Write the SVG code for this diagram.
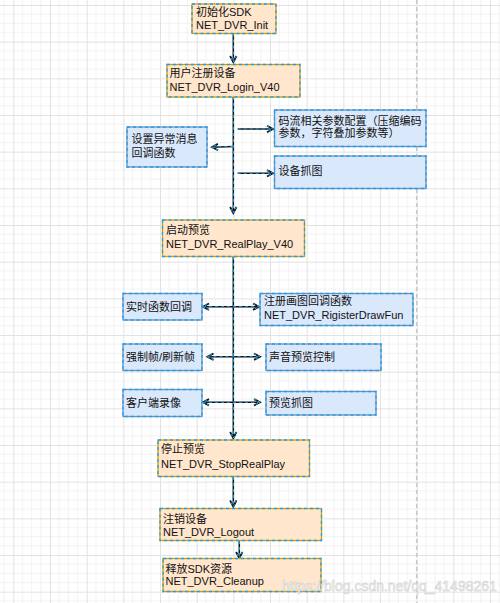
<svg xmlns="http://www.w3.org/2000/svg" width="500" height="603" viewBox="0 0 500 603">
<defs>
<pattern id="grid" x="13.333" y="5" width="36.667" height="36.667" patternUnits="userSpaceOnUse">
<path d="M9.167,0V36.667M18.333,0V36.667M27.5,0V36.667M0,9.167H36.667M0,18.333H36.667M0,27.5H36.667" stroke="#f2f2f2" stroke-width="1" fill="none"/>
<path d="M0.5,0V36.667M0,0.5H36.667" stroke="#e2e2e2" stroke-width="1" fill="none"/>
</pattern>
<marker id="ah" markerUnits="userSpaceOnUse" markerWidth="10" markerHeight="10" refX="7" refY="4" orient="auto-start-reverse" viewBox="0 0 10 8">
<path d="M1,0.8 L7,4 L1,7.2" fill="none" stroke="#111" stroke-width="1.8"/>
</marker>
<marker id="ahb" markerUnits="userSpaceOnUse" markerWidth="10" markerHeight="10" refX="7" refY="4" orient="auto-start-reverse" viewBox="0 0 10 8">
<path d="M1,0.8 L7,4 L1,7.2" fill="none" stroke="#1ea1e8" stroke-width="1" stroke-dasharray="2.5 2"/>
</marker>
</defs>
<style>
.o{fill:#ffe6cc;stroke:#d79b00;stroke-width:1.3}
.b{fill:#dae8fc;stroke:#6c8ebf;stroke-width:1.3}
.sel{fill:none;stroke:#1ea1e8;stroke-width:1.3;stroke-dasharray:3 3}
.t{font-family:"Liberation Sans","Noto Sans CJK SC",sans-serif;font-size:11px;fill:#111}
.ln{fill:none;stroke:#111;stroke-width:1.5;marker-end:url(#ah)}
.lnd{fill:none;stroke:#111;stroke-width:1.5;marker-end:url(#ah);marker-start:url(#ah)}
.lb{fill:none;stroke:#1ea1e8;stroke-width:1.1;stroke-dasharray:3 3;marker-end:url(#ahb)}
.lbd{fill:none;stroke:#1ea1e8;stroke-width:1.1;stroke-dasharray:3 3;marker-end:url(#ahb);marker-start:url(#ahb)}
</style>
<rect width="500" height="603" fill="#ffffff"/>
<rect width="500" height="603" fill="url(#grid)"/>
<line x1="416.7" y1="0" x2="416.7" y2="603" stroke="#c8c8c8" stroke-width="1.5" stroke-dasharray="4 3"/>

<g id="connectors">
<path class="ln" d="M233.3,33.5V62"/><path class="lb" d="M233.3,33.5V62"/>
<path class="ln" d="M233.3,97V213"/><path class="lb" d="M233.3,97V213"/>
<path class="ln" d="M237.7,129H273"/><path class="lb" d="M237.7,129H273"/>
<path class="ln" d="M233.3,146.5L212,147.3"/><path class="lb" d="M233.3,146.5L212,147.3"/>
<path class="ln" d="M237.7,173.3H273"/><path class="lb" d="M237.7,173.3H273"/>
<path class="ln" d="M233.3,257V438"/><path class="lb" d="M233.3,257V438"/>
<path class="lnd" d="M203,306.7H259"/><path class="lbd" d="M203,306.7H259"/>
<path class="lnd" d="M207.5,356.7H260"/><path class="lbd" d="M207.5,356.7H260"/>
<path class="lnd" d="M203,402.3H260"/><path class="lbd" d="M203,402.3H260"/>
<path class="ln" d="M233.3,477V506.5"/><path class="lb" d="M233.3,477V506.5"/>
<path class="ln" d="M239.3,541V558"/><path class="lb" d="M239.3,541V558"/>
</g>

<g id="init"><rect class="o" x="192" y="4" width="84" height="29.5"/><rect class="sel" x="192" y="4" width="84" height="29.5"/>
<text class="t" x="196" y="15.5">初始化SDK</text><text class="t" x="196" y="28.5">NET_DVR_Init</text></g>

<g id="login"><rect class="o" x="167" y="64.5" width="133" height="32.5"/><rect class="sel" x="167" y="64.5" width="133" height="32.5"/>
<text class="t" x="169.5" y="77">用户注册设备</text><text class="t" x="169.5" y="90.5">NET_DVR_Login_V40</text></g>

<g id="exception"><rect class="b" x="127" y="127" width="80" height="40"/><rect class="sel" x="127" y="127" width="80" height="40"/>
<text class="t" x="131.5" y="142.5">设置异常消息</text><text class="t" x="131.5" y="156.5">回调函数</text></g>

<g id="streamcfg"><rect class="b" x="274.5" y="110" width="151.5" height="36.5"/><rect class="sel" x="274.5" y="110" width="151.5" height="36.5"/>
<text class="t" x="278.5" y="124.5">码流相关参数配置（压缩编码</text><text class="t" x="278.5" y="137">参数，字符叠加参数等）</text></g>

<g id="capture"><rect class="b" x="274.5" y="156" width="151.5" height="32.5"/><rect class="sel" x="274.5" y="156" width="151.5" height="32.5"/>
<text class="t" x="278.5" y="175">设备抓图</text></g>

<g id="realplay"><rect class="o" x="162.5" y="220" width="142" height="36.5"/><rect class="sel" x="162.5" y="220" width="142" height="36.5"/>
<text class="t" x="166" y="234">启动预览</text><text class="t" x="166" y="248">NET_DVR_RealPlay_V40</text></g>

<g id="realdata"><rect class="b" x="123" y="293.5" width="79" height="26.5"/><rect class="sel" x="123" y="293.5" width="79" height="26.5"/>
<text class="t" x="126" y="311">实时函数回调</text></g>

<g id="drawfun"><rect class="b" x="260" y="293.5" width="153" height="32"/><rect class="sel" x="260" y="293.5" width="153" height="32"/>
<text class="t" x="264" y="305">注册画图回调函数</text><text class="t" x="264" y="318.5">NET_DVR_RigisterDrawFun</text></g>

<g id="iframe"><rect class="b" x="123" y="344" width="79" height="26.5"/><rect class="sel" x="123" y="344" width="79" height="26.5"/>
<text class="t" x="126" y="361">强制帧/刷新帧</text></g>

<g id="sound"><rect class="b" x="266" y="344" width="115" height="26.5"/><rect class="sel" x="266" y="344" width="115" height="26.5"/>
<text class="t" x="269" y="361">声音预览控制</text></g>

<g id="record"><rect class="b" x="123" y="389.5" width="79" height="27"/><rect class="sel" x="123" y="389.5" width="79" height="27"/>
<text class="t" x="126" y="406.5">客户端录像</text></g>

<g id="snap"><rect class="b" x="266" y="391.5" width="110" height="23.5"/><rect class="sel" x="266" y="391.5" width="110" height="23.5"/>
<text class="t" x="269" y="406.5">预览抓图</text></g>

<g id="stop"><rect class="o" x="158" y="440" width="151.5" height="36.5"/><rect class="sel" x="158" y="440" width="151.5" height="36.5"/>
<text class="t" x="161" y="453">停止预览</text><text class="t" x="161" y="468">NET_DVR_StopRealPlay</text></g>

<g id="logout"><rect class="o" x="160" y="508.5" width="161.5" height="32"/><rect class="sel" x="160" y="508.5" width="161.5" height="32"/>
<text class="t" x="163" y="522.5">注销设备</text><text class="t" x="163" y="535.5">NET_DVR_Logout</text></g>

<g id="cleanup"><rect class="o" x="163" y="558.5" width="158" height="33"/><rect class="sel" x="163" y="558.5" width="158" height="33"/>
<text class="t" x="165.5" y="572.5">释放SDK资源</text><text class="t" x="165.5" y="585">NET_DVR_Cleanup</text></g>

<text x="282" y="591" font-family="Liberation Sans, sans-serif" font-size="14" fill="#f4f4f4" stroke="#cdcdcd" stroke-width="0.5">https://blog.csdn.net/qq_41498261</text>
</svg>
